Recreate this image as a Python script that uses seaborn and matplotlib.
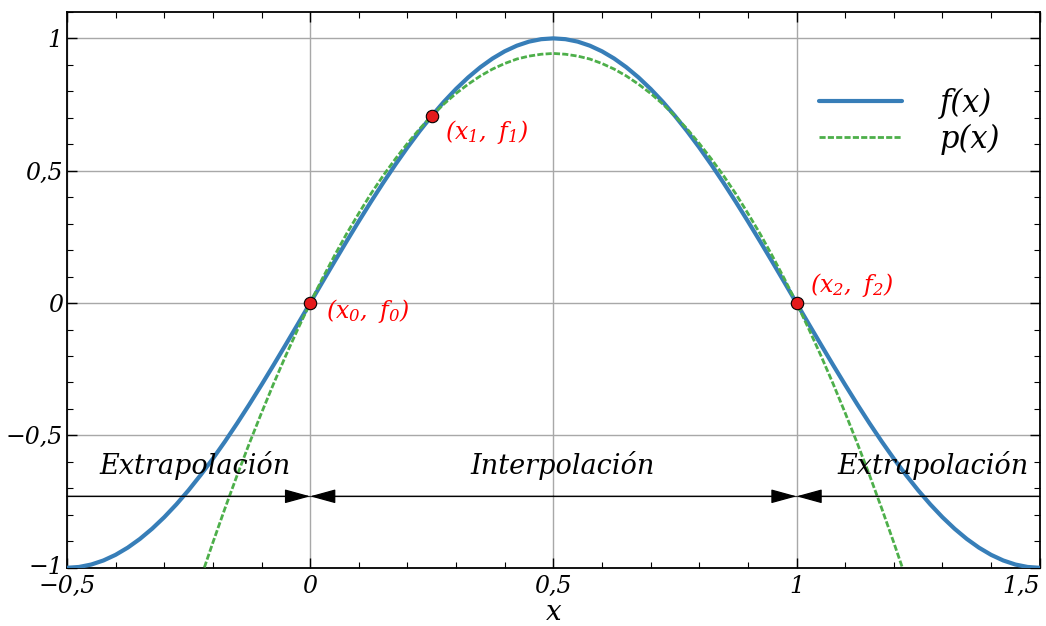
import numpy as np
import pandas as pd
import matplotlib
matplotlib.use('Agg')
import matplotlib.pyplot as plt
import matplotlib.transforms as mtransforms
from matplotlib.ticker import MultipleLocator, FuncFormatter
import seaborn as sns

# f(x): blue curve, read every 0.025 from -0.5 to 1.5
x_f = np.round(np.arange(-0.5, 1.50001, 0.025), 3)
f_vals = [-1.0, -0.9969, -0.9877, -0.9724, -0.9511, -0.9239, -0.8910, -0.8526, -0.8090, -0.7604,
          -0.7071, -0.6494, -0.5878, -0.5225, -0.4540, -0.3827, -0.3090, -0.2334, -0.1564, -0.0785,
          0.0, 0.0785, 0.1564, 0.2334, 0.3090, 0.3827, 0.4540, 0.5225, 0.5878, 0.6494,
          0.7071, 0.7604, 0.8090, 0.8526, 0.8910, 0.9239, 0.9511, 0.9724, 0.9877, 0.9969,
          1.0, 0.9969, 0.9877, 0.9724, 0.9511, 0.9239, 0.8910, 0.8526, 0.8090, 0.7604,
          0.7071, 0.6494, 0.5878, 0.5225, 0.4540, 0.3827, 0.3090, 0.2334, 0.1564, 0.0785,
          0.0, -0.0785, -0.1564, -0.2334, -0.3090, -0.3827, -0.4540, -0.5225, -0.5878, -0.6494,
          -0.7071, -0.7604, -0.8090, -0.8526, -0.8910, -0.9239, -0.9511, -0.9724, -0.9877, -0.9969,
          -1.0]

# p(x): green dashed curve, read every 0.025 from -0.25 to 1.25
x_p = np.round(np.arange(-0.25, 1.25001, 0.025), 3)
p_vals = [-1.178, -1.039, -0.905, -0.775, -0.650, -0.530, -0.415, -0.304, -0.198, -0.097,
          0.0, 0.092, 0.179, 0.262, 0.339, 0.413, 0.481, 0.544, 0.603, 0.658,
          0.707, 0.752, 0.792, 0.827, 0.858, 0.884, 0.905, 0.922, 0.933, 0.940,
          0.943, 0.940, 0.933, 0.922, 0.905, 0.884, 0.858, 0.827, 0.792, 0.752,
          0.707, 0.658, 0.603, 0.544, 0.481, 0.413, 0.339, 0.262, 0.179, 0.092,
          0.0, -0.097, -0.198, -0.304, -0.415, -0.530, -0.650, -0.775, -0.905, -1.039,
          -1.178]

# interpolation nodes
x_nodes = [0.0, 0.25, 1.0]
f_nodes = [0.0, 0.707, 0.0]
node_labels = [r'$\mathrm{(x_0,\ f_0)}$', r'$\mathrm{(x_1,\ f_1)}$', r'$\mathrm{(x_2,\ f_2)}$']

region_labels = ['Extrapolación', 'Interpolación', 'Extrapolación']

x_ticks = [-0.5, 0, 0.5, 1, 1.5]
y_ticks = [-1, -0.5, 0, 0.5, 1]

df_f = pd.DataFrame({'x': x_f, 'y': f_vals})
df_p = pd.DataFrame({'x': x_p, 'y': p_vals})

sns.set_style('ticks')
plt.rcParams['font.family'] = ['DejaVu Serif']
plt.rcParams['font.style'] = 'italic'
plt.rcParams['mathtext.fontset'] = 'custom'
plt.rcParams['mathtext.rm'] = 'DejaVu Serif:italic'
plt.rcParams['mathtext.it'] = 'DejaVu Serif:italic'
for k in ['text.color', 'axes.labelcolor', 'axes.edgecolor', 'xtick.color', 'ytick.color']:
    plt.rcParams[k] = 'black'

pal = sns.color_palette('Set1')
blue, green, red = pal[1], pal[2], pal[0]

fig, ax = plt.subplots(figsize=(10.46, 6.26), dpi=100)
fig.subplots_adjust(left=0.064, right=0.994, top=0.981, bottom=0.093)

sns.lineplot(data=df_f, x='x', y='y', ax=ax, color=blue, lw=3, label='f(x)', zorder=3)
sns.lineplot(data=df_p, x='x', y='y', ax=ax, color=green, lw=2, label='p(x)', zorder=3)
ax.lines[1].set_linestyle((0, (2.2, 0.8)))

ax.scatter(x_nodes, f_nodes, s=80, color=red, edgecolor='black', linewidth=0.8, zorder=5)
offsets = [(0.033, -0.03), (0.028, -0.06), (0.027, 0.07)]
for xn, fn, lab, (dx, dy) in zip(x_nodes, f_nodes, node_labels, offsets):
    ax.text(xn + dx, fn + dy, lab, color='red', fontsize=17, va='center', ha='left')

# arrows marking the regions
y_arr = -0.73
ax.axhline(y_arr, color='#333333', lw=0.9, zorder=2)
aprops = dict(arrowstyle='-|>,head_length=0.8,head_width=0.22', color='black',
              lw=0.9, shrinkA=0, shrinkB=0, mutation_scale=20)
ax.annotate('', xy=(0, y_arr), xytext=(-0.5, y_arr), arrowprops=aprops)
ax.annotate('', xy=(1, y_arr), xytext=(1.5, y_arr), arrowprops=aprops)
ax.annotate('', xy=(0, y_arr), xytext=(0.5, y_arr), arrowprops=aprops)
ax.annotate('', xy=(1, y_arr), xytext=(0.5, y_arr), arrowprops=aprops)

for xt, lab in zip([-0.236, 0.52, 1.28], region_labels):
    ax.text(xt, -0.615, lab, fontsize=19.5, ha='center', va='center')

ax.set_xlim(-0.5, 1.5)
ax.set_ylim(-1, 1.1)
ax.set_xticks(x_ticks)
ax.set_yticks(y_ticks)
ax.xaxis.set_minor_locator(MultipleLocator(0.1))
ax.yaxis.set_minor_locator(MultipleLocator(0.1))
fmt = FuncFormatter(lambda v, pos: ('%g' % v).replace('.', ',').replace('-', '\u2212'))
ax.xaxis.set_major_formatter(fmt)
ax.yaxis.set_major_formatter(fmt)
ax.tick_params(which='both', direction='in', top=True, right=True, labelsize=17)
ax.tick_params(axis='x', pad=5)
ax.tick_params(axis='y', pad=3)
ax.tick_params(which='major', length=7, width=1)
ax.tick_params(which='minor', length=4, width=0.8)
ax.grid(True, which='major', color='#a8a8a8', lw=1)
for s in ax.spines.values():
    s.set_linewidth(1.3)
ax.set_xlabel('x', fontsize=20, labelpad=1)
ax.set_ylabel('')

# last x tick label sits flush with the right edge
ax.xaxis.get_major_ticks()[-1].label1.set_horizontalalignment('right')
# lift the bottom y label a touch so it does not sit on the x label
lab_m1 = ax.yaxis.get_major_ticks()[0].label1
lab_m1.set_transform(lab_m1.get_transform() +
                     mtransforms.ScaledTranslation(0, 2 / 72, fig.dpi_scale_trans))

ax.legend(loc='upper right', bbox_to_anchor=(0.988, 0.913), frameon=False,
          handlelength=2.7, handletextpad=1.25, labelspacing=0.15,
          prop={'family': 'DejaVu Serif', 'style': 'italic', 'size': 22})

fig.savefig('out.png', dpi=100)
